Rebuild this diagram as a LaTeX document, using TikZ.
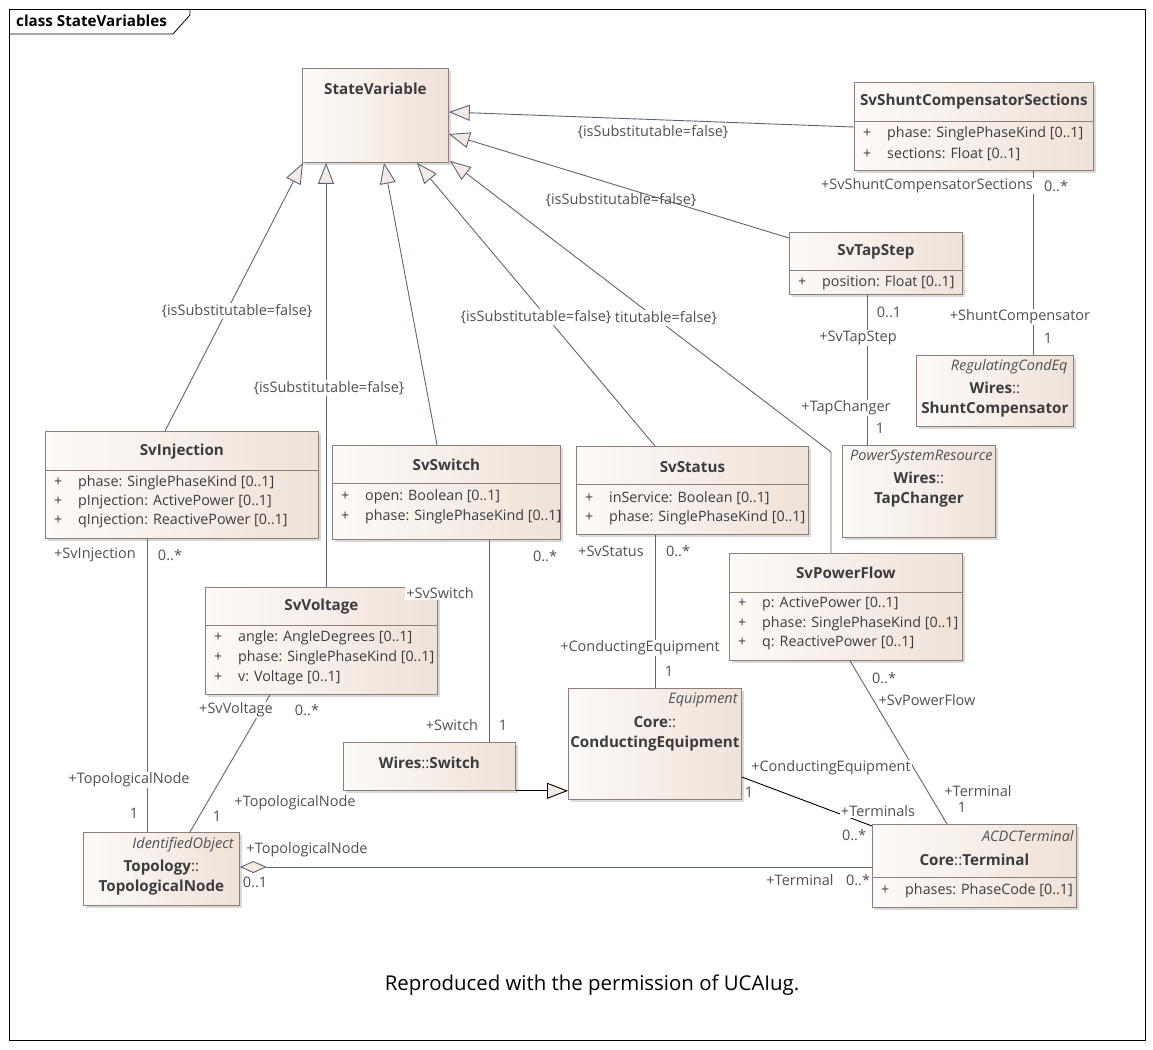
\documentclass[tikz,border=0pt]{standalone}
\usepackage{fontspec}
\setmainfont{Open Sans}
\usetikzlibrary{arrows.meta,shadows}

\definecolor{clsleft}{HTML}{FDFAF8}
\definecolor{clsright}{HTML}{EFE2D8}
\definecolor{clsfill}{HTML}{F3EAE4}
\definecolor{clsline}{HTML}{8C7F7A}
\definecolor{genline}{HTML}{5C6478}
\definecolor{txtdark}{HTML}{3C3C3C}
\definecolor{lblcol}{HTML}{505050}

\newcommand{\attrplus}{\makebox[24pt][l]{+}}
\newcommand{\pkgsep}{{\mdseries::}}

\begin{document}
\begin{tikzpicture}[x=1pt, y=-1pt,
    cls/.style={draw=clsline, line width=0.8pt, left color=clsleft, right color=clsright,
      drop shadow={shadow xshift=3pt, shadow yshift=-3pt, opacity=0.3}, anchor=north west, inner sep=0pt},
    cname/.style={font=\bfseries\fontsize{15.2}{20}\selectfont, text=txtdark, inner sep=0pt, align=center},
    stereo/.style={font=\itshape\fontsize{14.5}{17}\selectfont, text=lblcol, inner sep=0pt, anchor=east},
    attr/.style={font=\fontsize{14.3}{17}\selectfont, text=txtdark, inner sep=0pt, anchor=west},
    sep/.style={draw=clsline, line width=0.8pt},
    lbl/.style={font=\fontsize{14.5}{17}\selectfont, text=lblcol, inner sep=1pt},
    lblw/.style={lbl, fill=white},
    gen/.style={draw=genline, line width=0.9pt, -{Triangle[length=21pt, width=16pt, fill=clsfill]}},
    assoc/.style={draw=genline, line width=0.9pt}]
  \useasboundingbox (0,0) rectangle (1153,1049);

  % frame
  \draw[line width=0.8pt] (9,9) rectangle (1145,1040);
  \draw[line width=0.8pt] (9,34) -- (173,34) -- (190,15) -- (190,9);
  \node[font=\bfseries\fontsize{15.2}{18}\selectfont, anchor=west, inner sep=0pt] (title) at (16,21) {class StateVariables};

  % classes
  \node[cls, minimum width=146pt, minimum height=94pt] (statevar) at (302,68) {};
  \node[cname] (statevar-n) at ([yshift=-21pt]statevar.north) {StateVariable};

  \node[cls, minimum width=239pt, minimum height=88pt] (shuntsec) at (854,82) {};
  \node[cname] (shuntsec-n) at ([yshift=-20pt]shuntsec.north) {SvShuntCompensatorSections};
  \draw[sep] ([yshift=-39pt]shuntsec.north west) -- ([yshift=-39pt]shuntsec.north east);
  \node[attr] (shuntsec-a1) at ([xshift=9pt,yshift=-52pt]shuntsec.north west) {\attrplus phase: SinglePhaseKind [0..1]};
  \node[attr] (shuntsec-a2) at ([xshift=9pt,yshift=-72pt]shuntsec.north west) {\attrplus sections: Float [0..1]};

  \node[cls, minimum width=173pt, minimum height=62pt] (svtap) at (789,232) {};
  \node[cname] (svtap-n) at ([yshift=-20pt]svtap.north) {SvTapStep};
  \draw[sep] ([yshift=-38pt]svtap.north west) -- ([yshift=-38pt]svtap.north east);
  \node[attr] (svtap-a1) at ([xshift=9pt,yshift=-51pt]svtap.north west) {\attrplus position: Float [0..1]};

  \node[cls, minimum width=157pt, minimum height=71pt] (shuntcomp) at (916,355) {};
  \node[stereo] (shuntcomp-s) at ([xshift=-6pt,yshift=-12pt]shuntcomp.north east) {RegulatingCondEq};
  \node[cname] (shuntcomp-n) at ([yshift=-45pt]shuntcomp.north) {Wires\pkgsep\\ShuntCompensator};

  \node[cls, minimum width=153pt, minimum height=92pt] (tapch) at (842,445) {};
  \node[stereo] (tapch-s) at ([xshift=-3pt,yshift=-12pt]tapch.north east) {PowerSystemResource};
  \node[cname] (tapch-n) at ([yshift=-45pt]tapch.north) {Wires\pkgsep\\TapChanger};

  \node[cls, minimum width=273pt, minimum height=107pt] (svinj) at (45,431) {};
  \node[cname] (svinj-n) at ([yshift=-21pt]svinj.north) {SvInjection};
  \draw[sep] ([yshift=-39pt]svinj.north west) -- ([yshift=-39pt]svinj.north east);
  \node[attr] (svinj-a1) at ([xshift=9pt,yshift=-52pt]svinj.north west) {\attrplus phase: SinglePhaseKind [0..1]};
  \node[attr] (svinj-a2) at ([xshift=9pt,yshift=-71pt]svinj.north west) {\attrplus pInjection: ActivePower [0..1]};
  \node[attr] (svinj-a3) at ([xshift=9pt,yshift=-90pt]svinj.north west) {\attrplus qInjection: ReactivePower [0..1]};

  \node[cls, minimum width=228pt, minimum height=94pt] (svswitch) at (332,445) {};
  \node[cname] (svswitch-n) at ([yshift=-20pt]svswitch.north) {SvSwitch};
  \draw[sep] ([yshift=-38pt]svswitch.north west) -- ([yshift=-38pt]svswitch.north east);
  \node[attr] (svswitch-a1) at ([xshift=9pt,yshift=-52pt]svswitch.north west) {\attrplus open: Boolean [0..1]};
  \node[attr] (svswitch-a2) at ([xshift=9pt,yshift=-72pt]svswitch.north west) {\attrplus phase: SinglePhaseKind [0..1]};

  \node[cls, minimum width=232pt, minimum height=88pt] (svstatus) at (576,446) {};
  \node[cname] (svstatus-n) at ([yshift=-21pt]svstatus.north) {SvStatus};
  \draw[sep] ([yshift=-38pt]svstatus.north west) -- ([yshift=-38pt]svstatus.north east);
  \node[attr] (svstatus-a1) at ([xshift=9pt,yshift=-52pt]svstatus.north west) {\attrplus inService: Boolean [0..1]};
  \node[attr] (svstatus-a2) at ([xshift=9pt,yshift=-72pt]svstatus.north west) {\attrplus phase: SinglePhaseKind [0..1]};

  \node[cls, minimum width=233pt, minimum height=107pt] (svpf) at (729,553) {};
  \node[cname] (svpf-n) at ([yshift=-20pt]svpf.north) {SvPowerFlow};
  \draw[sep] ([yshift=-39pt]svpf.north west) -- ([yshift=-39pt]svpf.north east);
  \node[attr] (svpf-a1) at ([xshift=9pt,yshift=-51pt]svpf.north west) {\attrplus p: ActivePower [0..1]};
  \node[attr] (svpf-a2) at ([xshift=9pt,yshift=-71pt]svpf.north west) {\attrplus phase: SinglePhaseKind [0..1]};
  \node[attr] (svpf-a3) at ([xshift=9pt,yshift=-90pt]svpf.north west) {\attrplus q: ReactivePower [0..1]};

  \node[cls, minimum width=232pt, minimum height=107pt] (svvolt) at (205,587) {};
  \node[cname] (svvolt-n) at ([yshift=-20pt]svvolt.north) {SvVoltage};
  \draw[sep] ([yshift=-38pt]svvolt.north west) -- ([yshift=-38pt]svvolt.north east);
  \node[attr] (svvolt-a1) at ([xshift=9pt,yshift=-51pt]svvolt.north west) {\attrplus angle: AngleDegrees [0..1]};
  \node[attr] (svvolt-a2) at ([xshift=9pt,yshift=-71pt]svvolt.north west) {\attrplus phase: SinglePhaseKind [0..1]};
  \node[attr] (svvolt-a3) at ([xshift=9pt,yshift=-91pt]svvolt.north west) {\attrplus v: Voltage [0..1]};

  \node[cls, minimum width=172pt, minimum height=48pt] (wswitch) at (343,742) {};
  \node[cname] (wswitch-n) at ([yshift=-21pt]wswitch.north) {Wires\pkgsep Switch};

  \node[cls, minimum width=173pt, minimum height=111pt] (condeq) at (568,688) {};
  \node[stereo] (condeq-s) at ([xshift=-4pt,yshift=-12pt]condeq.north east) {Equipment};
  \node[cname] (condeq-n) at ([yshift=-46pt]condeq.north) {Core\pkgsep\\ConductingEquipment};

  \node[cls, minimum width=156pt, minimum height=73pt] (topo) at (83,832) {};
  \node[stereo] (topo-s) at ([xshift=-6pt,yshift=-13pt]topo.north east) {IdentifiedObject};
  \node[cname] (topo-n) at ([yshift=-46pt]topo.north) {Topology\pkgsep\\TopologicalNode};

  \node[cls, minimum width=204pt, minimum height=83pt] (term) at (872,824) {};
  \node[stereo] (term-s) at ([xshift=-3pt,yshift=-12pt]term.north east) {ACDCTerminal};
  \node[cname] (term-n) at ([yshift=-36pt]term.north) {Core\pkgsep Terminal};
  \draw[sep] ([yshift=-53pt]term.north west) -- ([yshift=-53pt]term.north east);
  \node[attr] (term-a1) at ([xshift=9pt,yshift=-67pt]term.north west) {\attrplus phases: PhaseCode [0..1]};

  % generalisations
  \draw[gen] ([yshift=-45pt]shuntsec.north west) -- ([yshift=-44pt]statevar.north east)
    node[lbl] at (653,132) {\{isSubstitutable=false\}};
  \draw[gen] ([yshift=-6pt]svtap.north west) -- ([yshift=-66pt]statevar.north east)
    node[lbl] at (621,200) {\{isSubstitutable=false\}};
  \draw[gen] ([xshift=120pt]svinj.north west) -- ([xshift=1pt]statevar.south west)
    node[lblw] at (237,311) {\{isSubstitutable=false\}};
  \draw[gen] ([xshift=121pt]svvolt.north west) -- ([xshift=24pt]statevar.south west)
    node[lblw] at (329,388) {\{isSubstitutable=false\}};
  \draw[gen] ([xshift=105pt]svswitch.north west) -- ([xshift=82pt]statevar.south west);
  \draw[gen] ([xshift=102pt]svpf.north west) -- ++(0,-101) -- ([xshift=1pt,yshift=2pt]statevar.south east)
    node[lblw] at (666,318) {titutable=false\}};
  \draw[gen] ([xshift=79pt]svstatus.north west) -- ([xshift=115pt]statevar.south west)
    node[lblw] at (536,317) {\{isSubstitutable=false\}};
  \draw[gen, draw=black] (wswitch.south east) -- (wswitch.south east -| condeq.west);

  % associations
  \draw[assoc] ([xshift=179pt]shuntsec.south west) -- ([xshift=117pt]shuntcomp.north west)
    node[lblw] at (927,186) {+SvShuntCompensatorSections}
    node[lbl] at (1056,186) {0..*}
    node[lblw] at (1020,317) {+ShuntCompensator}
    node[lbl] at (1048,338) {1};
  \draw[assoc] ([xshift=78pt]svtap.south west) -- ([xshift=25pt]tapch.north west)
    node[lbl] at (889,312) {0..1}
    node[lblw] at (858,338) {+SvTapStep}
    node[lblw] at (846,408) {+TapChanger}
    node[lbl] at (880,428) {1};
  \draw[assoc] ([xshift=102pt]svinj.south west) -- ([xshift=64pt]topo.north west)
    node[lbl] at (95,555) {+SvInjection}
    node[lbl] at (170,555) {0..*}
    node[lblw] at (129,780) {+TopologicalNode}
    node[lbl] at (134,813) {1};
  \draw[assoc] ([xshift=65pt]svvolt.south west) -- ([xshift=107pt]topo.north west)
    node[lblw] at (236,710) {+SvVoltage}
    node[lbl] at (307,710) {0..*}
    node[lbl] at (295,803) {+TopologicalNode}
    node[lbl] at (217,816) {1};
  \draw[assoc] ([xshift=157pt]svswitch.south west) -- ([xshift=146pt]wswitch.north west)
    node[lbl] at (545,556) {0..*}
    node[lblw] at (440,593) {+SvSwitch}
    node[lbl] at (452,725) {+Switch}
    node[lbl] at (503,725) {1};
  \draw[assoc] ([xshift=79pt]svstatus.south west) -- ([xshift=87pt]condeq.north west)
    node[lbl] at (611,551) {+SvStatus}
    node[lbl] at (678,551) {0..*}
    node[lblw] at (640,648) {+ConductingEquipment}
    node[lbl] at (669,671) {1};
  \draw[assoc] ([xshift=121pt]svpf.south west) -- ([xshift=75pt]term.north west)
    node[lbl] at (884,678) {0..*}
    node[lblw] at (927,700) {+SvPowerFlow}
    node[lbl] at (978,791) {+Terminal}
    node[lbl] at (962,807) {1};
  \draw[assoc, draw=black] ([yshift=-89pt]condeq.north east) -- ([yshift=-2pt]term.north west)
    node[lblw] at (831,768) {+ConductingEquipment}
    node[lbl] at (749,792) {1}
    node[lblw] at (878,811) {+Terminals}
    node[lbl] at (854,835) {0..*};
  \draw[assoc, -{Diamond[length=27pt, width=12pt, fill=clsfill]}] ([yshift=-43pt]term.north west) -- ([yshift=-35pt]topo.north east)
    node[lbl] at (307,850) {+TopologicalNode}
    node[lbl] at (255,882) {0..1}
    node[lbl] at (800,880) {+Terminal}
    node[lbl] at (858,880) {0..*};

  \node[font=\fontsize{20.4}{24}\selectfont, inner sep=0pt] (credit) at (592,985) {Reproduced with the permission of UCAIug.};
\end{tikzpicture}
\end{document}
